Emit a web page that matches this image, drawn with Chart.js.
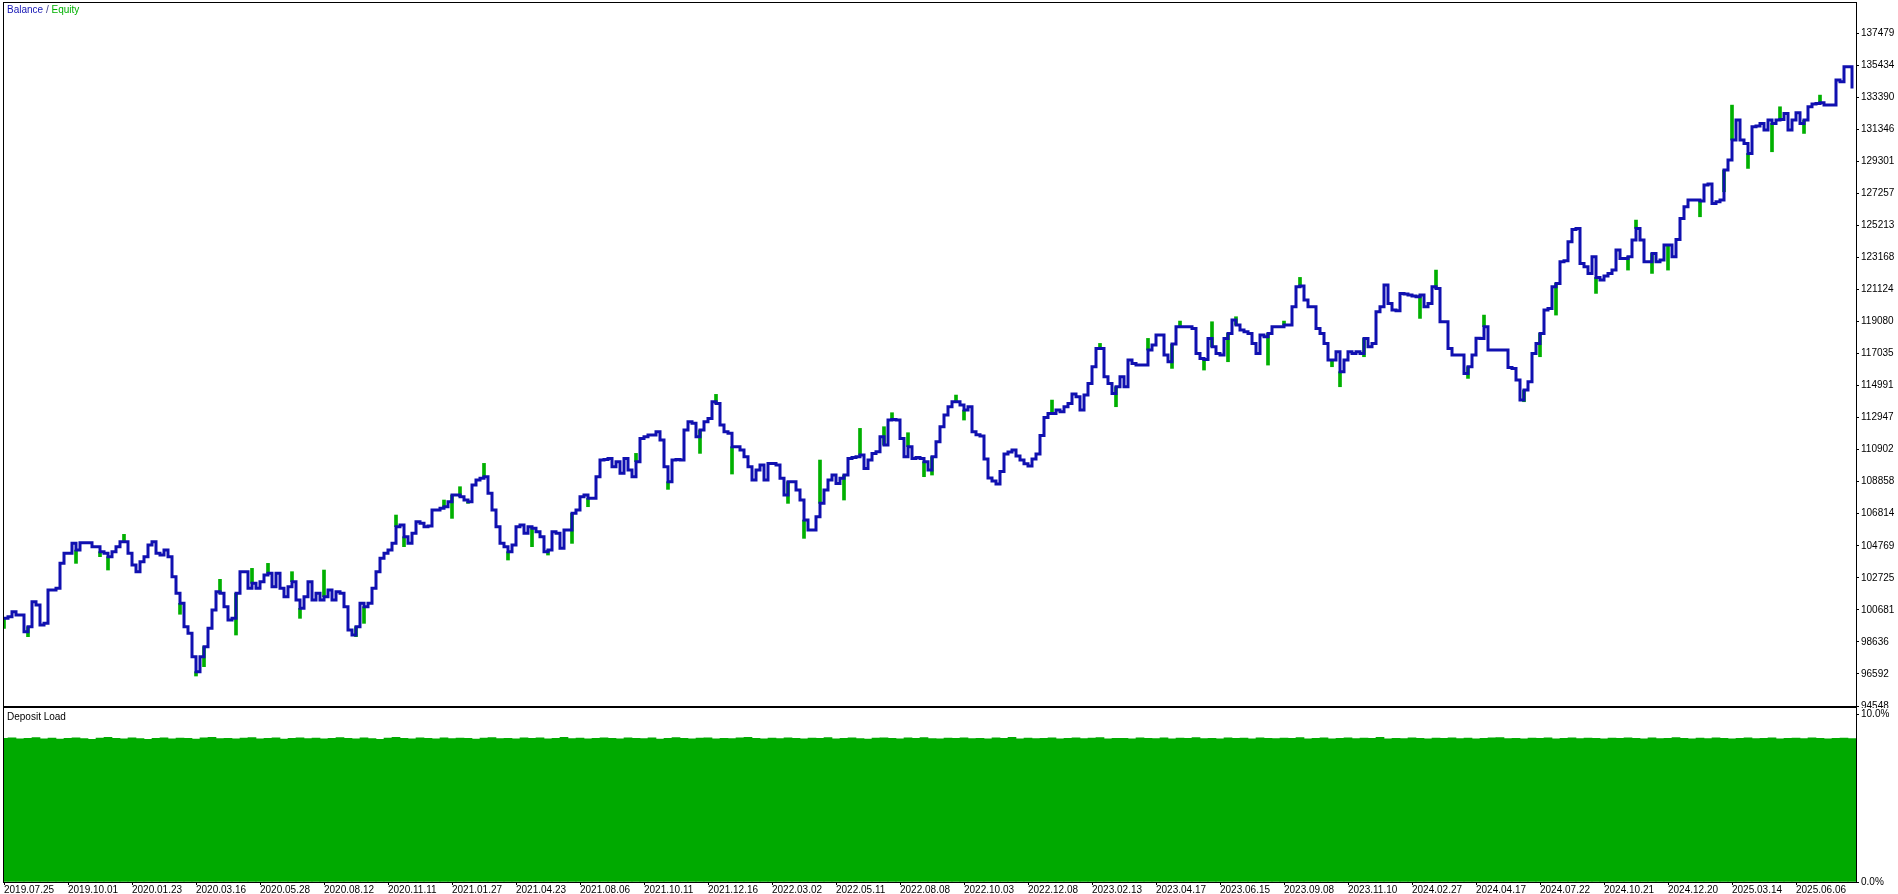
<!DOCTYPE html>
<html>
<head>
<meta charset="utf-8">
<title>Balance / Equity</title>
<script src="https://cdn.jsdelivr.net/npm/chart.js@4.4.1/dist/chart.umd.min.js"></script>
<style>
  html, body { margin: 0; padding: 0; background: #fff; }
  #wrap { position: relative; width: 1898px; height: 894px; overflow: hidden; }
  #topChart { position: absolute; left: 0; top: 0; }
  #bottomChart { position: absolute; left: 0; top: 704px; }
  .caption { position: absolute; left: 7px; font: 10px 'Liberation Sans', sans-serif; white-space: nowrap; }
</style>
</head>
<body>
<div id="wrap">
  <canvas id="topChart" width="1898" height="708"></canvas>
  <canvas id="bottomChart" width="1898" height="190"></canvas>
  <div class="caption" style="top:4px"><span style="color:#1414b4">Balance</span><span style="color:#404090"> / </span><span style="color:#00b000">Equity</span></div>
  <div class="caption" style="top:711px;color:#000">Deposit Load</div>
</div>
<script>
// balance after each trade
const balance = [
  100140, 100246, 100565, 100352, 100352, 99289, 99608, 101203, 100990, 99714,
  99820, 101947, 101947, 102053, 103647, 104285, 104285, 104923, 104497, 104965,
  104965, 104965, 104710, 104710, 104391, 104285, 104072, 104391, 104710, 105029,
  105029, 104285, 103540, 103116, 103753, 104072, 104816, 105029, 104285, 104179,
  104497, 104072, 102797, 101734, 101096, 99608, 99183, 97694, 96738, 97694,
  98333, 99502, 100671, 101840, 101734, 100883, 100034, 100139, 101734, 103116,
  103116, 102053, 102372, 102053, 102478, 102903, 103010, 102159, 103010, 102053,
  101522, 102159, 102478, 101309, 100777, 101521, 102478, 101309, 101734, 101309,
  101522, 101947, 101309, 101840, 101734, 100883, 99395, 99077, 99608, 101096,
  100884, 101096, 102053, 103116, 103966, 104285, 104497, 104923, 105986, 106092,
  105348, 104923, 105560, 106305, 106198, 105986, 106028, 107049, 107048, 107155,
  107261, 107580, 108006, 108006, 107899, 107687, 107580, 108643, 108962, 109069,
  109175, 108112, 107048, 105986, 104922, 104710, 104391, 104817, 105986, 106092,
  105560, 105986, 105880, 105667, 105348, 104392, 104497, 105667, 105560, 104604,
  105773, 105773, 106836, 107049, 107899, 108006, 107793, 107793, 109175, 110238,
  110280, 110344, 109813, 110132, 109388, 110344, 109600, 109175, 110132, 111620,
  111726, 111832, 111833, 112045, 111514, 109813, 108856, 110238, 110280, 110238,
  112151, 112683, 112577, 111726, 112151, 112683, 112895, 113958, 113852, 112470,
  112045, 111939, 111088, 111088, 110876, 110450, 109813, 108962, 109600, 109919,
  108962, 110025, 110025, 109919, 109069, 108006, 108856, 108856, 108324, 107687,
  106411, 105773, 105773, 106624, 107474, 108324, 108962, 109281, 108749, 109069,
  109281, 110344, 110408, 110451, 110557, 109706, 110238, 110663, 110769, 111726,
  111195, 112789, 112832, 112789, 111620, 110451, 111088, 110344, 110408, 110344,
  110132, 109600, 110451, 111407, 112364, 113107, 113639, 113958, 113958, 113745,
  113426, 113639, 112045, 111850, 111768, 110300, 109090, 108900, 108707, 109500,
  110620, 110750, 110876, 110500, 110238, 110000, 109855, 110300, 110620, 111800,
  112951, 113214, 113214, 113426, 113320, 113639, 113851, 114447, 114277, 113426,
  114383, 115127, 116190, 117360, 117360, 115553, 115127, 114489, 114915, 115553,
  114915, 116615, 116403, 116297, 116297, 116297, 117253, 117572, 118210, 118210,
  116934, 116509, 117636, 118742, 118742, 118742, 118742, 118636, 117041, 116722,
  116658, 117997, 117466, 117041, 116934, 117997, 118316, 119167, 118848, 118529,
  118423, 118316, 117679, 117041, 118210, 118104, 118316, 118742, 118742, 118742,
  118848, 118848, 120017, 121293, 121335, 120442, 120017, 120017, 118635, 118316,
  117679, 116615, 116616, 117147, 115871, 116615, 117147, 117041, 117147, 117041,
  117997, 117466, 117679, 119698, 120017, 121399, 120230, 119804, 119762, 120868,
  120825, 120761, 120698, 120655, 120761, 120017, 120230, 121293, 121186, 119060,
  119060, 117360, 116934, 116934, 116934, 115765, 116190, 116934, 118002, 117997,
  118742, 117253, 117254, 117253, 117254, 117253, 116148, 116084, 115340, 114065,
  114702, 115234, 117041, 117678, 118316, 119804, 119911, 121293, 121505, 122887,
  122951, 124163, 124949, 125013, 122781, 122568, 122143, 123206, 121888, 121718,
  121973, 122143, 122355, 123631, 123100, 123100, 123206, 124269, 125013, 124269,
  122887, 122887, 123419, 122887, 122994, 123950, 123950, 123206, 124312, 125651,
  126395, 126820, 126820, 126820, 126757, 127777, 127841, 126608, 126714, 126820,
  128734, 129374, 130647, 131923, 130647, 130434, 129797, 131497, 131540, 131710,
  131285, 131923, 131710, 131923, 131965, 132348, 131285, 131923, 132390, 131710,
  131923, 132773, 132943, 132986, 133028, 132879, 132879, 132879, 134474, 134368,
  135324, 135324, 133942
];

// equity excursions away from balance: trade index and equity value
const spikeIdx = [0, 6, 18, 24, 26, 30, 44, 48, 50, 54, 58, 62, 66, 72, 74, 80, 88, 90, 98, 100,
  110, 112, 114, 116, 120, 126, 132, 136, 142, 146, 158, 166, 174, 178, 182, 196, 200, 204, 210, 214,
  220, 222, 226, 230, 232, 238, 240, 262, 274, 278, 286, 292, 294, 300, 302, 306, 308, 316, 320, 324,
  332, 334, 340, 354, 358, 366, 370, 380, 384, 388, 398, 406, 408, 412, 416, 424, 430, 432, 436, 442,
  444, 450, 454];
const spikeVal = [99502, 98970, 103647, 104072, 103222, 105497, 100400, 96461, 97056, 102627,
  99076, 103328, 103647, 103116, 100140, 103222, 98970, 99820, 106730, 104710,
  107687, 106517, 108537, 107474, 110025, 103860, 104710, 104178, 104922, 107261,
  110663, 108367, 110663, 114426, 109345, 107474, 105242, 110238, 107687, 112257,
  112364, 113257, 111981, 109175, 109281, 114383, 112789, 114064, 117678, 113639,
  117997, 116084, 119103, 115978, 119060, 116509, 119379, 116296, 119103, 121888,
  116190, 114914, 116828, 119273, 122356, 115446, 119485, 113958, 116828, 119485,
  120868, 122355, 125545, 122143, 122355, 125757, 127352, 132879, 128840, 129903,
  132773, 131072, 133517];

// deposit load in percent, one bar per two trades
const depositLoad = [
  8.55,8.58,8.52,8.56,8.60,8.53,8.57,8.51,8.55,8.59,8.54,8.50,8.57,8.61,8.55,8.52,8.58,8.54,8.50,8.56,
  8.59,8.53,8.57,8.55,8.51,8.58,8.62,8.54,8.56,8.52,8.57,8.60,8.53,8.55,8.58,8.51,8.56,8.59,8.54,8.57,
  8.52,8.56,8.60,8.55,8.53,8.58,8.54,8.50,8.57,8.61,8.55,8.53,8.58,8.56,8.52,8.59,8.54,8.57,8.55,8.51,
  8.57,8.60,8.54,8.56,8.52,8.58,8.55,8.59,8.53,8.56,8.61,8.54,8.57,8.52,8.55,8.59,8.56,8.53,8.58,8.55,
  8.54,8.58,8.51,8.56,8.60,8.55,8.53,8.57,8.59,8.52,8.56,8.54,8.58,8.61,8.55,8.52,8.57,8.54,8.59,8.56,
  8.53,8.57,8.55,8.60,8.52,8.56,8.58,8.54,8.51,8.57,8.59,8.55,8.53,8.58,8.56,8.60,8.54,8.52,8.57,8.55,
  8.59,8.54,8.56,8.52,8.58,8.55,8.61,8.53,8.57,8.54,8.56,8.59,8.52,8.55,8.58,8.54,8.57,8.60,8.53,8.56,
  8.55,8.52,8.58,8.56,8.54,8.59,8.53,8.57,8.55,8.60,8.54,8.56,8.52,8.58,8.55,8.57,8.53,8.59,8.56,8.54,
  8.57,8.55,8.60,8.53,8.56,8.58,8.52,8.55,8.59,8.54,8.57,8.55,8.61,8.53,8.56,8.54,8.58,8.55,8.52,8.57,
  8.56,8.59,8.54,8.57,8.53,8.55,8.58,8.60,8.54,8.56,8.52,8.57,8.55,8.59,8.53,8.56,8.58,8.54,8.57,8.55,
  8.53,8.57,8.55,8.59,8.56,8.52,8.58,8.54,8.56,8.60,8.55,8.53,8.57,8.54,8.58,8.56,8.52,8.55,8.59,8.54,
  8.56,8.58,8.53,8.55,8.57,8.54,8.59,8.56,8.52,8.55,8.57,8.54
];
const tradesPerLoadBar = 2;

const balanceTicks = [94548, 96592, 98636, 100681, 102725, 104769, 106814, 108858, 110902, 112947,
  114991, 117035, 119080, 121124, 123168, 125213, 127257, 129301, 131346, 133390, 135434, 137479];
const loadTicks = [0, 10];

const dateLabels = ["2019.07.25", "2019.10.01", "2020.01.23", "2020.03.16", "2020.05.28", "2020.08.12",
  "2020.11.11", "2021.01.27", "2021.04.23", "2021.08.06", "2021.10.11", "2021.12.16", "2022.03.02",
  "2022.05.11", "2022.08.08", "2022.10.03", "2022.12.08", "2023.02.13", "2023.04.17", "2023.06.15",
  "2023.09.08", "2023.11.10", "2024.02.27", "2024.04.17", "2024.07.22", "2024.10.21", "2024.12.20",
  "2025.03.14", "2025.06.06"];
const tradesPerLabel = 16;

const BLUE = "#1010b0";
const GREEN = "#00b000";
const LOAD_GREEN = "#00aa00";
const X_MAX = 463;

Chart.defaults.font.family = "'Liberation Sans', sans-serif";
Chart.defaults.font.size = 10;
Chart.defaults.color = "#000";
Chart.defaults.animation = false;

// thin black frame round each pane
const paneFrame = {
  id: "paneFrame",
  afterDraw(chart) {
    const { ctx, chartArea: a } = chart;
    ctx.save();
    ctx.strokeStyle = "#000";
    ctx.lineWidth = 1;
    ctx.strokeRect(a.left - 0.5, a.top - 0.5, a.right - a.left + 1, a.bottom - a.top + 1);
    ctx.restore();
  }
};

// labels may hang outside the pane, like the terminal does
const noLabelPadding = (s) => { s.paddingTop = 0; s.paddingBottom = 0; s.paddingLeft = 0; s.paddingRight = 0; };

const rightAxis = (ticks, fmt, extra) => Object.assign({
  position: "right",
  afterFit: (s) => { s.width = 42; noLabelPadding(s); },
  afterBuildTicks: (s) => { s.ticks = ticks.map(v => ({ value: v })); },
  grid: { drawOnChartArea: false, tickLength: 3, color: "#000" },
  border: { color: "#000" },
  ticks: { padding: 2, autoSkip: false, callback: fmt }
}, extra);

new Chart(document.getElementById("topChart"), {
  type: "line",
  data: {
    datasets: [
      {
        type: "line",
        label: "Balance",
        data: balance.map((y, x) => ({ x, y })),
        stepped: true,
        borderColor: BLUE,
        borderWidth: 3,
        borderJoinStyle: "miter",
        pointRadius: 0,
        order: 1
      },
      {
        type: "bar",
        label: "Equity",
        data: spikeIdx.map((x, k) => ({ x, y: [balance[x], spikeVal[k]] })),
        backgroundColor: GREEN,
        barThickness: 3,
        clip: 0,
        order: 2
      }
    ]
  },
  options: {
    responsive: false,
    devicePixelRatio: 1,
    layout: { padding: { left: 4, top: 3, right: 0, bottom: 2 } },
    plugins: { legend: { display: false }, tooltip: { enabled: false } },
    scales: {
      x: { type: "linear", min: 0, max: X_MAX, offset: false, display: false },
      y: rightAxis(balanceTicks, v => String(v), { min: 94548, max: 139393 })
    }
  },
  plugins: [paneFrame]
});

new Chart(document.getElementById("bottomChart"), {
  type: "bar",
  data: {
    datasets: [{
      label: "Deposit Load",
      data: depositLoad.map((y, k) => ({ x: k * tradesPerLoadBar, y })),
      backgroundColor: LOAD_GREEN,
      borderWidth: 0,
      barPercentage: 1,
      categoryPercentage: 1,
      clip: 0
    }]
  },
  options: {
    responsive: false,
    devicePixelRatio: 1,
    layout: { padding: { left: 4, top: 4, right: 0, bottom: 0 } },
    plugins: { legend: { display: false }, tooltip: { enabled: false } },
    scales: {
      x: {
        type: "linear", min: 0, max: X_MAX, offset: false,
        afterFit: (s) => { s.height = 12; noLabelPadding(s); },
        afterBuildTicks: (s) => { s.ticks = dateLabels.map((_, k) => ({ value: k * tradesPerLabel })); },
        grid: { drawOnChartArea: false, tickLength: 3, color: "#000", offset: false },
        border: { color: "#000" },
        ticks: {
          align: "start", padding: 0, autoSkip: false, maxRotation: 0,
          font: { lineHeight: 1 },
          callback: (v, i) => dateLabels[i]
        }
      },
      y: rightAxis(loadTicks, v => v.toFixed(1) + "%", { min: 0, max: 10.36 })
    }
  },
  plugins: [paneFrame]
});
</script>
</body>
</html>
